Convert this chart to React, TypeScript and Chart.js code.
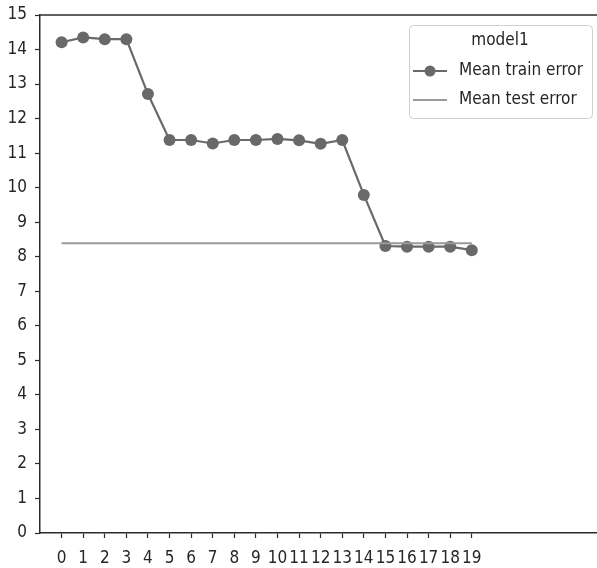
import { useEffect, useRef } from "react";
import { Chart, registerables } from "chart.js";

Chart.register(...registerables);

// Epoch index on the x axis
const epochs = [0, 1, 2, 3, 4, 5, 6, 7, 8, 9, 10, 11, 12, 13, 14, 15, 16, 17, 18, 19];
// Mean training error per epoch
const trainError = [
  14.21, 14.35, 14.3, 14.3, 12.71, 11.38, 11.38, 11.28, 11.38, 11.38,
  11.41, 11.37, 11.27, 11.38, 9.79, 8.31, 8.29, 8.29, 8.29, 8.19,
];
// Mean test error (single value, drawn as a flat line over the epochs)
const testError = 8.39;
// Y axis tick values
const yTicks = [0, 1, 2, 3, 4, 5, 6, 7, 8, 9, 10, 11, 12, 13, 14, 15];

const legendTitle = "model1";
const trainLabel = "Mean train error";
const testLabel = "Mean test error";

const FONT = "'DejaVu Sans Condensed', 'DejaVu Sans', sans-serif";
const TRAIN_COLOR = "#696969";
const TEST_COLOR = "#9a9a9a";
const SPINE_COLOR = "#2b2b2b";
const TEXT_COLOR = "#262626";

// Draws the top spine of the axes box
const topSpine = {
  id: "topSpine",
  afterDraw(chart: any) {
    const { ctx, chartArea } = chart;
    ctx.save();
    ctx.strokeStyle = SPINE_COLOR;
    ctx.lineWidth = 1.5;
    ctx.beginPath();
    ctx.moveTo(chartArea.left, chartArea.top);
    ctx.lineTo(chartArea.right, chartArea.top);
    ctx.stroke();
    ctx.restore();
  },
};

// Boxed legend with a title, placed in the upper right of the plot
const boxLegend = {
  id: "boxLegend",
  afterDraw(chart: any) {
    const { ctx } = chart;
    const x0 = 409.5;
    const y0 = 25.5;
    const w = 183;
    const h = 93;
    ctx.save();
    ctx.fillStyle = "rgba(255,255,255,0.85)";
    ctx.strokeStyle = "#d0d0d0";
    ctx.lineWidth = 1;
    ctx.beginPath();
    ctx.roundRect(x0, y0, w, h, 4);
    ctx.fill();
    ctx.stroke();

    ctx.fillStyle = TEXT_COLOR;
    ctx.font = `17px ${FONT}`;
    ctx.textBaseline = "middle";
    ctx.textAlign = "center";
    ctx.fillText(legendTitle, 500, 41);

    ctx.textAlign = "left";
    const rows = [
      { label: trainLabel, color: TRAIN_COLOR, marker: true, y: 71 },
      { label: testLabel, color: TEST_COLOR, marker: false, y: 100 },
    ];
    rows.forEach((r) => {
      ctx.strokeStyle = r.color;
      ctx.lineWidth = 2;
      ctx.beginPath();
      ctx.moveTo(413, r.y);
      ctx.lineTo(447, r.y);
      ctx.stroke();
      if (r.marker) {
        ctx.fillStyle = r.color;
        ctx.beginPath();
        ctx.arc(430, r.y, 5.5, 0, Math.PI * 2);
        ctx.fill();
      }
      ctx.fillStyle = TEXT_COLOR;
      ctx.fillText(r.label, 459, r.y);
    });
    ctx.restore();
  },
};

export default function App() {
  const canvasRef = useRef<HTMLCanvasElement | null>(null);

  useEffect(() => {
    document.body.style.margin = "0";
    const canvas = canvasRef.current;
    if (!canvas) return;

    const trainPoints = epochs.map((e, i) => ({ x: e, y: trainError[i] }));
    const testPoints = [
      { x: epochs[0], y: testError },
      { x: epochs[epochs.length - 1], y: testError },
    ];

    const tickFont = { family: FONT, size: 17 };

    const chart = new Chart(canvas, {
      type: "line",
      data: {
        datasets: [
          {
            label: testLabel,
            data: testPoints,
            borderColor: TEST_COLOR,
            borderWidth: 2,
            pointRadius: 0,
            order: 0,
          },
          {
            label: trainLabel,
            data: trainPoints,
            borderColor: TRAIN_COLOR,
            backgroundColor: TRAIN_COLOR,
            borderWidth: 2.2,
            pointRadius: 6,
            pointBorderWidth: 0,
            pointBackgroundColor: TRAIN_COLOR,
            order: 1,
          },
        ],
      },
      options: {
        responsive: false,
        animation: false,
        layout: {
          autoPadding: false,
          padding: { top: 15, right: 0, left: 0, bottom: 0 },
        },
        plugins: {
          legend: { display: false },
          tooltip: { enabled: false },
        },
        scales: {
          x: {
            type: "linear",
            min: -1,
            max: 24.8,
            afterBuildTicks: (s: any) => {
              s.ticks = epochs.map((v) => ({ value: v }));
            },
            afterFit: (s: any) => {
              s.height = 35;
              s.paddingLeft = 0;
              s.paddingRight = 0;
            },
            ticks: {
              autoSkip: false,
              maxRotation: 0,
              font: tickFont,
              color: TEXT_COLOR,
              padding: 10,
              callback: (v: any) => String(v),
            },
            grid: {
              drawOnChartArea: false,
              tickLength: 5,
              tickColor: SPINE_COLOR,
              tickWidth: 1.2,
            },
            border: { color: SPINE_COLOR, width: 1.5 },
          },
          y: {
            type: "linear",
            min: yTicks[0],
            max: yTicks[yTicks.length - 1],
            afterBuildTicks: (s: any) => {
              s.ticks = yTicks.map((v) => ({ value: v }));
            },
            afterFit: (s: any) => {
              s.width = 40;
              s.paddingTop = 0;
              s.paddingBottom = 0;
            },
            ticks: {
              font: tickFont,
              color: TEXT_COLOR,
              padding: 8,
              callback: (v: any) => String(v),
            },
            grid: {
              drawOnChartArea: false,
              tickLength: 5,
              tickColor: SPINE_COLOR,
              tickWidth: 1.2,
            },
            border: { color: SPINE_COLOR, width: 1.5 },
          },
        },
      },
      plugins: [topSpine, boxLegend],
    });

    return () => chart.destroy();
  }, []);

  return (
    <div style={{ width: 597, height: 568 }}>
      <canvas ref={canvasRef} width={597} height={568} />
    </div>
  );
}
